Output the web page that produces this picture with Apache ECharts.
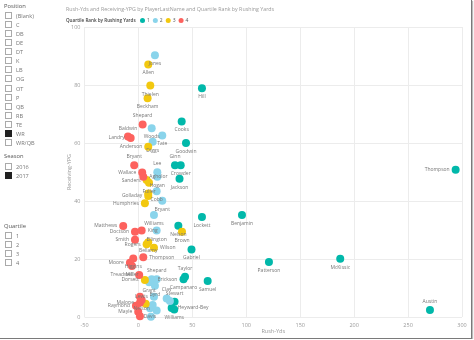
<!DOCTYPE html>
<html>
<head>
<meta charset="utf-8">
<script src="https://cdn.jsdelivr.net/npm/echarts@6/dist/echarts.min.js"></script>
<style>
  html, body { margin: 0; padding: 0; background: #fff; }
  #frame { position: relative; width: 471px; height: 338px; border-right: 1px solid #7a7a7a; border-bottom: 1px solid #7a7a7a; box-shadow: 1px 1px 1px #bbb; overflow: hidden; font-family: "Open Sans", sans-serif; }
  #chart { position: absolute; left: 0; top: 0; width: 474px; height: 340px; }
  .slicer { position: absolute; left: 4px; font-size: 5.6px; color: #777; }
  .slicer .hd { position: absolute; left: 0; color: #555; white-space: nowrap; font-size: 5.8px; }
  .slicer .it { position: absolute; left: 1px; white-space: nowrap; line-height: 7px; }
  .slicer .box { display: inline-block; width: 5px; height: 5px; border: 1px solid #aaa; vertical-align: -1px; margin-right: 4px; box-sizing: content-box; }
  .slicer .box.on { background: #222; border-color: #222; }
</style>
</head>
<body>
<div id="frame">
  <div id="chart"></div>
  <div id="panel"></div>
</div>
<script>
// Slicer contents
const positionItems = ['(Blank)', 'C', 'DB', 'DE', 'DT', 'K', 'LB', 'OG', 'OT', 'P', 'QB', 'RB', 'TE', 'WR', 'WR/QB'];
const positionSelected = ['WR'];
const seasonItems = ['2016', '2017'];
const seasonSelected = ['2017'];
const quartileItems = ['1', '2', '3', '4'];
const quartileSelected = [];

// Player values: rushing yards (x) and receiving yards per game (y), grouped by quartile
const players = [
  'Hill', 'Cooks', 'Goodwin', 'Ginn', 'Crowder', 'Jackson', 'Lockett', 'Benjamin', 'Nelson', 'Gabriel',
  'Taylor', 'Campanaro', 'Samuel', 'Patterson', 'McKissic', 'Thompson', 'Austin', 'Stewart', 'Heyward-Bey', 'Williams',
  'Jones', 'Woods', 'Tate', 'Diggs', 'Lee', 'Hogan', 'Cobb', 'Bryant', 'Williams', 'Ellington',
  'Shepard', 'Erickson', 'Grant', 'Byrd', 'Lewis', 'Clay', '', '', 'Davis', '', '',
  'Allen', 'Thielen', 'Beckham', 'Anderson', 'Sanders', 'Fuller', '', 'Golladay', 'Humphries', 'Brown',
  'Rogers', 'Bellamy', 'Wilson', 'Dorsett', '',
  'Shepard', 'Baldwin', 'Landry', 'Bryant', 'Wallace', 'Agholor', 'Matthews', 'Doctson', 'King', 'Smith',
  'Thompson', 'Higgins', 'Moore', 'Miller', 'Treadwell', 'Malone', 'Nelson', 'Raymond', 'Mayle', '', ''
];
const rushYds = [
  58.9, 40.1, 44.1, 33.9, 39.2, 38.1, 58.9, 96.0, 37.0, 49.2,
  43.2, 41.8, 64.2, 121.0, 187.1, 294.1, 270.3, 33.5, 30.8, 33.2,
  15.3, 12.3, 22.1, 13.2, 17.5, 17.5, 16.9, 22.1, 14.4, 16.9,
  16.9, 12.3, 10.0, 15.3, 14.4, 26.2, 29.2, 13.2, 10.7, 16.9, 11.6,
  9.1, 11.0, 8.5, 9.1, 7.6, 9.8, 9.1, 9.1, 6.0, 40.4,
  7.6, 9.1, 14.4, 6.0, 6.7,
  3.9, -9.7, -7.2, -3.9, 3.5, 4.5, -14.1, -3.2, 3.0, -3.2,
  4.5, -4.8, -7.9, -6.0, 0.7, 1.4, 3.0, -2.3, -0.2, 1.4, 1.4
];
const recYpg = [
  78.9, 67.4, 60.0, 52.3, 52.3, 47.7, 34.5, 35.2, 31.5, 23.3,
  13.9, 13.0, 12.4, 19.0, 20.1, 50.8, 2.4, 5.3, 3.1, 2.6,
  90.3, 65.1, 62.6, 60.4, 49.9, 48.4, 43.4, 40.1, 35.2, 29.8,
  13.0, 13.0, 12.0, 10.8, 7.0, 6.4, 5.5, 4.1, 3.0, 2.2, 0.1,
  87.1, 79.8, 75.4, 58.7, 47.2, 46.3, 42.6, 41.7, 39.2, 29.4,
  25.1, 25.8, 23.9, 12.8, 4.6,
  66.4, 62.2, 61.7, 52.3, 49.8, 48.4, 31.4, 29.4, 29.8, 26.6,
  20.6, 20.2, 18.7, 17.6, 14.5, 4.9, 5.9, 3.9, 1.8, 0.3, 7.0
];
const quartile = [
  1, 1, 1, 1, 1, 1, 1, 1, 1, 1,
  1, 1, 1, 1, 1, 1, 1, 1, 1, 1,
  2, 2, 2, 2, 2, 2, 2, 2, 2, 2,
  2, 2, 2, 2, 2, 2, 2, 2, 2, 2, 2,
  3, 3, 3, 3, 3, 3, 3, 3, 3, 3,
  3, 3, 3, 3, 3,
  4, 4, 4, 4, 4, 4, 4, 4, 4, 4,
  4, 4, 4, 4, 4, 4, 4, 4, 4, 4, 4
];
const quartileNames = ['1', '2', '3', '4'];

// Label placement for crowded points (default is below the point)
const labelSide = {
  'Ginn:1': 'top', 'Taylor:1': 'top', 'Thompson:1': 'left', 'Austin:1': 'top', 'Stewart:1': 'top', 'Heyward-Bey:1': 'right',
  'Lee:2': 'top', 'Shepard:2': 'top', 'Erickson:2': 'right', 'Lewis:2': 'left', 'Clay:2': 'top',
  'Anderson:3': 'left', 'Sanders:3': 'left', 'Golladay:3': 'left', 'Humphries:3': 'left', 'Rogers:3': 'left',
  'Wilson:3': 'right', 'Dorsett:3': 'left',
  'Shepard:4': 'top', 'Baldwin:4': 'top', 'Landry:4': 'left', 'Bryant:4': 'top', 'Wallace:4': 'left', 'Agholor:4': 'right',
  'Matthews:4': 'left', 'Doctson:4': 'left', 'King:4': 'right', 'Smith:4': 'left', 'Thompson:4': 'right', 'Moore:4': 'left',
  'Treadwell:4': 'left', 'Malone:4': 'left', 'Raymond:4': 'left', 'Mayle:4': 'left'
};

const colors = ['#01B8AA', '#8AD4EB', '#F2C80F', '#FD625E'];
const FONT = '"Open Sans", sans-serif';

// Slicer panel
function slicer(top, title, items, selected, rowStart, rowStep) {
  let html = '<div class="slicer" style="top:' + top + 'px">';
  html += '<div class="hd" style="top:0px">' + title + '</div>';
  items.forEach((t, i) => {
    const on = selected.indexOf(t) >= 0 ? ' on' : '';
    html += '<div class="it" style="top:' + (rowStart + i * rowStep) + 'px"><span class="box' + on + '"></span>' + t + '</div>';
  });
  return html + '</div>';
}
document.getElementById('panel').innerHTML =
  slicer(2, 'Position', positionItems, positionSelected, 10, 9.07) +
  slicer(152, 'Season', seasonItems, seasonSelected, 11, 9.3) +
  slicer(222, 'Quartile', quartileItems, quartileSelected, 10, 9.1);

// Scatter series, one per quartile
const series = quartileNames.map((qn, qi) => {
  const data = [];
  players.forEach((p, i) => {
    if (quartile[i] !== qi + 1) return;
    const side = labelSide[p + ':' + (qi + 1)] || 'bottom';
    data.push({ name: p, value: [rushYds[i], recYpg[i]], label: { position: side } });
  });
  return {
    name: qn,
    type: 'scatter',
    symbolSize: 8,
    itemStyle: { color: colors[qi], opacity: 1 },
    label: {
      show: true,
      formatter: '{b}',
      fontSize: 5,
      color: '#777',
      fontFamily: FONT,
      distance: 2
    },
    labelLayout: { hideOverlap: false },
    emphasis: { disabled: true },
    data: data
  };
});

const chart = echarts.init(document.getElementById('chart'), null, { renderer: 'canvas' });
chart.setOption({
  animation: false,
  textStyle: { fontFamily: FONT },
  title: [
    { text: 'Rush-Yds and Receiving-YPG by PlayerLastName and Quartile Rank by Rushing Yards', left: 61, top: 2,
      textStyle: { fontSize: 5.3, fontWeight: 'normal', color: '#9a9a9a', fontFamily: FONT } },
    { text: 'Quartile Rank by Rushing Yards', left: 61, top: 13,
      textStyle: { fontSize: 4.6, fontWeight: 600, color: '#444', fontFamily: FONT } }
  ],
  legend: {
    left: 135, top: 13,
    icon: 'circle', itemWidth: 5, itemHeight: 5, itemGap: 3,
    textStyle: { fontSize: 5, color: '#555', padding: [0, 0, 0, -3] },
    data: quartileNames
  },
  grid: { left: 84.5, right: 12, top: 27, bottom: 23, containLabel: false },
  xAxis: {
    type: 'value', min: -50, max: 300, interval: 50,
    name: 'Rush-Yds', nameLocation: 'middle', nameGap: 11, nameMoveOverlap: false,
    nameTextStyle: { fontSize: 5.5, color: '#999' },
    axisLine: { show: false }, axisTick: { show: false },
    axisLabel: { fontSize: 5.5, color: '#999', margin: 5 },
    splitLine: { lineStyle: { color: '#ececec', width: 1 } }
  },
  yAxis: {
    type: 'value', min: 0, max: 100, interval: 20,
    name: 'Receiving-YPG', nameLocation: 'middle', nameGap: 12, nameMoveOverlap: false,
    nameTextStyle: { fontSize: 5.5, color: '#999' },
    axisLine: { show: false }, axisTick: { show: false },
    axisLabel: { fontSize: 5.5, color: '#999', margin: 4 },
    splitLine: { lineStyle: { color: '#ececec', width: 1 } }
  },
  series: series
});
</script>
</body>
</html>
